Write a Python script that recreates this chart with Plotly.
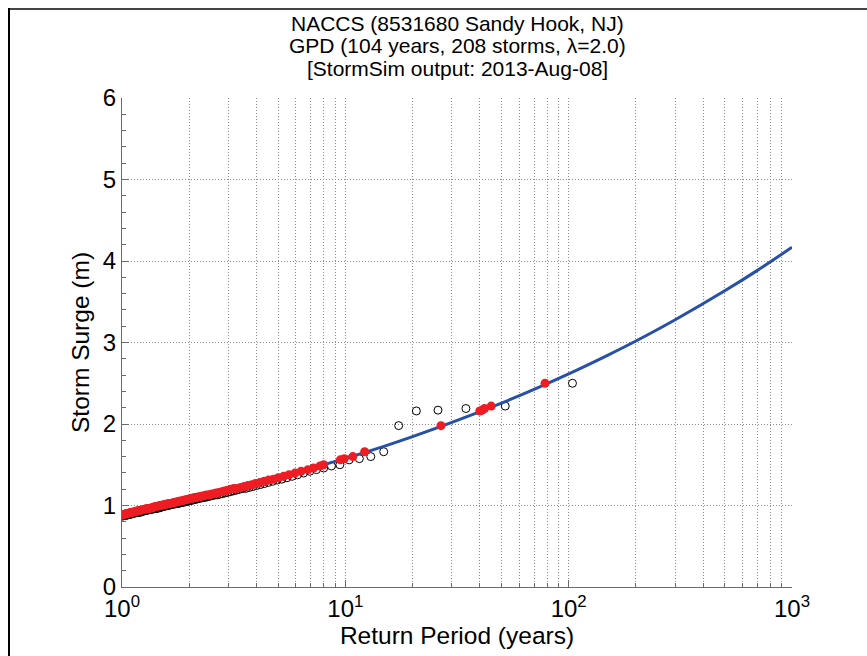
import plotly.graph_objects as go

# ---------------- data ----------------
N_YEARS = 104

# storm surge (m), ranked from largest (rank 1) down to rank 104
surge = [2.50, 2.22, 2.19, 2.17, 2.16, 1.98, 1.66, 1.60, 1.575, 1.56,
         1.50, 1.485, 1.46, 1.44,
         1.420, 1.398, 1.377, 1.358, 1.340, 1.323,
         1.312, 1.297, 1.283, 1.269, 1.256, 1.244, 1.232, 1.221, 1.210,
         1.208, 1.198, 1.188, 1.179, 1.170, 1.161, 1.153, 1.145, 1.138, 1.130,
         1.128, 1.121, 1.114, 1.107, 1.100,
         1.097, 1.091, 1.085, 1.079, 1.073, 1.067, 1.062, 1.056, 1.051, 1.046,
         1.041, 1.036, 1.031, 1.026, 1.022,
         1.020, 1.016, 1.012, 1.007, 1.003, 0.999, 0.995, 0.991, 0.987, 0.983,
         0.974, 0.970, 0.967, 0.963, 0.960,
         0.959, 0.956, 0.953, 0.949, 0.946, 0.943, 0.940, 0.937, 0.933, 0.930,
         0.922, 0.919, 0.916, 0.914, 0.911,
         0.911, 0.908, 0.905, 0.902, 0.900,
         0.892, 0.890, 0.887, 0.885, 0.882, 0.880, 0.877, 0.875, 0.872, 0.870]

# return period of each storm from the fitted GPD (red markers), years
fitted_rp = [78.4, 45.0, 42.0, 41.0, 40.0, 26.8, 12.2, 10.8, 9.9, 9.5,
             8.0, 7.7, 7.2, 6.8,
             6.34, 5.95, 5.60, 5.29, 5.01, 4.76, 4.53, 4.33, 4.14, 3.96,
             3.81, 3.66, 3.52, 3.40, 3.28,
             3.17, 3.07, 2.97, 2.88, 2.80, 2.72, 2.64, 2.57, 2.50, 2.44,
             2.38, 2.32, 2.27, 2.21, 2.16,
             2.12, 2.08, 2.03, 1.99, 1.95, 1.91, 1.87, 1.84, 1.80, 1.77,
             1.74, 1.71, 1.68, 1.65, 1.62,
             1.60, 1.58, 1.55, 1.53, 1.50, 1.48, 1.46, 1.44, 1.41, 1.39,
             1.37, 1.36, 1.34, 1.32, 1.30,
             1.29, 1.28, 1.26, 1.24, 1.23, 1.21, 1.20, 1.18, 1.17, 1.16,
             1.14, 1.13, 1.11, 1.10, 1.09,
             1.09, 1.08, 1.06, 1.05, 1.04, 1.03, 1.02, 1.01, 1.00, 0.99,
             0.98, 0.97, 0.96, 0.95, 0.94]

# empirical return period (plotting position): years / rank
ranks = list(range(1, len(surge) + 1))
empirical_rp = [N_YEARS / r for r in ranks]

# fitted GPD curve
curve_rp = [1, 1.5, 2, 3, 5, 7, 10, 15, 20, 30, 50, 70, 100, 150, 200, 300,
            500, 700, 1000]
curve_surge = [0.880, 0.995, 1.080, 1.195, 1.345, 1.455, 1.578, 1.729, 1.845,
               2.019, 2.256, 2.424, 2.614, 2.845, 3.018, 3.279, 3.634, 3.885,
               4.169]

title_lines = ["NACCS (8531680 Sandy Hook, NJ)",
               "GPD (104 years, 208 storms, \u03bb=2.0)",
               "[StormSim output: 2013-Aug-08]"]
x_tickvals = [1, 10, 100, 1000]
x_ticktext = ["10<sup>0</sup>", "10<sup>1</sup>", "10<sup>2</sup>", "10<sup>3</sup>"]
x_minor = [m * 10 ** k for k in range(3) for m in range(2, 10)]
y_tickvals = [0, 1, 2, 3, 4, 5, 6]

# ---------------- figure ----------------
FONT = "Liberation Sans, Arial, Helvetica, sans-serif"
AX = "#6a6a6a"
GRID = "#8c8c8c"
DOTS = "1px,2px"

# plot area in pixels: x 122..792, y 98..587
PL, PR, PT, PB = 122, 792, 98, 587
W, H = 867, 656


def px_to_paper_x(px):
    return (px - PL) / (PR - PL)


def px_to_paper_y(py):
    return (PB - py) / (PB - PT)


fig = go.Figure()
fig.add_trace(go.Scatter(
    x=empirical_rp, y=surge, mode="markers",
    marker=dict(symbol="circle-open", size=8, color="black", line=dict(width=1, color="black")),
    showlegend=False))
fig.add_trace(go.Scatter(
    x=curve_rp, y=curve_surge, mode="lines", line=dict(color="#2750A8", width=3, shape="spline"),
    showlegend=False))
fig.add_trace(go.Scatter(
    x=fitted_rp, y=surge, mode="markers",
    marker=dict(symbol="circle", size=9, color="#EE1D23", line=dict(width=0)),
    showlegend=False))

annotations = []
for i, line in enumerate(title_lines):
    annotations.append(dict(
        text=line, xref="paper", yref="paper",
        x=0.5, y=px_to_paper_y(23 + 22.7 * i),
        xanchor="center", yanchor="middle", showarrow=False,
        font=dict(size=21, family=FONT, color="black")))

fig.update_layout(
    width=W, height=H,
    margin=dict(l=PL, r=W - PR, t=PT, b=H - PB),
    paper_bgcolor="white", plot_bgcolor="white",
    font=dict(family=FONT, color="black"),
    annotations=annotations,
    xaxis=dict(type="log", range=[0, 3], tickvals=x_tickvals, ticktext=x_ticktext,
               ticks="inside", ticklen=7, tickcolor=AX, tickwidth=1,
               showline=True, linecolor=AX, linewidth=1, mirror=False,
               showgrid=True, gridcolor=GRID, griddash=DOTS, gridwidth=1,
               zeroline=False, tickfont=dict(size=24, family=FONT),
               minor=dict(tickvals=x_minor, ticks="inside", ticklen=4, tickcolor=AX,
                          showgrid=True, gridcolor=GRID, griddash=DOTS, gridwidth=1),
               title=dict(text="Return Period (years)", font=dict(size=24.5, family=FONT), standoff=6)),
    yaxis=dict(range=[0, 6], tickvals=y_tickvals,
               ticks="inside", ticklen=7, tickcolor=AX, tickwidth=1,
               showline=True, linecolor=AX, linewidth=1, mirror=False,
               showgrid=True, gridcolor=GRID, griddash=DOTS, gridwidth=1,
               zeroline=False, tickfont=dict(size=24, family=FONT),
               minor=dict(dtick=0.2, ticks="inside", ticklen=4, tickcolor=AX, showgrid=False),
               title=dict(text="Storm Surge (m)", font=dict(size=24.5, family=FONT), standoff=6)),
    shapes=[
        dict(type="line", xref="paper", yref="paper",
             x0=px_to_paper_x(8), x1=px_to_paper_x(W + 2), y0=px_to_paper_y(9), y1=px_to_paper_y(9),
             line=dict(color="#444444", width=2)),
        dict(type="line", xref="paper", yref="paper",
             x0=px_to_paper_x(9), x1=px_to_paper_x(9), y0=px_to_paper_y(8), y1=px_to_paper_y(H + 2),
             line=dict(color="black", width=2)),
    ],
)

fig.write_html("out.html")
